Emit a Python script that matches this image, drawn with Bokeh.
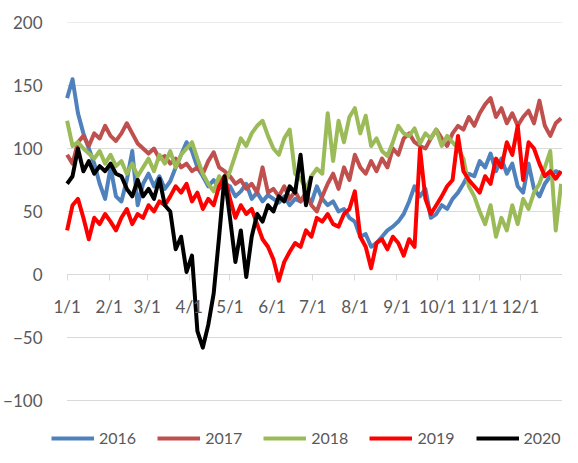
from bokeh.plotting import figure
from bokeh.models import FixedTicker, Legend, LegendItem, Range1d
from bokeh.embed import file_html
from bokeh.resources import INLINE

# sampled every 4 days starting 1/1
step_days = 4
s2016 = [140, 155, 128, 112, 100, 88, 72, 60, 85, 62, 58, 75, 98, 55, 72, 80, 70, 78, 68, 74,
         85, 95, 105, 98, 85, 78, 70, 75, 68, 72, 70, 62, 66, 72, 60, 65, 58, 63, 60, 57,
         62, 55, 60, 58, 62, 57, 70, 60, 55, 58, 50, 52, 45, 42, 30, 32, 22, 25, 30, 35,
         38, 42, 48, 58, 70, 62, 68, 45, 48, 55, 52, 60, 65, 72, 80, 78, 90, 85, 96, 82,
         92, 80, 88, 70, 65, 88, 68, 62, 72, 78, 82, 80]
s2017 = [95, 88, 105, 110, 102, 112, 108, 118, 110, 106, 112, 120, 112, 104, 100, 96, 100, 92, 94, 88,
         92, 85, 88, 82, 85, 80, 90, 97, 85, 82, 78, 72, 75, 68, 72, 65, 85, 65, 68, 62,
         70, 60, 66, 58, 65, 55, 50, 62, 72, 80, 68, 85, 75, 95, 85, 80, 90, 82, 92, 85,
         100, 95, 108, 112, 105, 102, 100, 108, 115, 108, 102, 112, 118, 115, 125, 118, 128, 135, 140, 125,
         132, 120, 128, 118, 125, 130, 120, 138, 118, 110, 120, 124]
s2018 = [122, 102, 105, 100, 96, 92, 98, 88, 95, 86, 90, 80, 88, 78, 85, 92, 82, 95, 88, 98,
         85, 95, 100, 105, 92, 80, 72, 66, 78, 72, 82, 95, 108, 102, 112, 118, 122, 110, 100, 95,
         108, 115, 80, 76, 68, 78, 84, 80, 128, 90, 122, 105, 125, 132, 112, 126, 102, 108, 98, 94,
         105, 118, 112, 110, 116, 104, 112, 108, 115, 102, 110, 105, 100, 92, 70, 62, 50, 40, 55, 30,
         45, 35, 55, 40, 60, 52, 65, 72, 85, 98, 35, 72]
s2019 = [35, 55, 60, 45, 28, 45, 40, 48, 42, 35, 45, 52, 40, 48, 45, 55, 50, 58, 55, 62,
         70, 65, 72, 58, 65, 52, 60, 55, 70, 78, 60, 45, 55, 48, 52, 40, 28, 22, 12, -5,
         10, 18, 25, 22, 35, 30, 45, 42, 48, 40, 38, 48, 52, 66, 30, 22, 5, 25, 28, 20,
         30, 25, 15, 28, 22, 100, 60, 48, 55, 62, 70, 75, 110, 82, 75, 70, 65, 78, 72, 92,
         85, 105, 95, 118, 75, 105, 100, 88, 78, 82, 76, 82]
s2020 = [72, 78, 100, 82, 90, 80, 86, 82, 88, 80, 78, 68, 62, 75, 62, 68, 60, 76, 55, 50,
         20, 30, 2, 15, -45, -58, -40, -15, 30, 78, 45, 10, 35, -2, 30, 48, 42, 55, 50, 62,
         58, 70, 65, 95, 55, 78]

years = ["2016", "2017", "2018", "2019", "2020"]
series = [s2016, s2017, s2018, s2019, s2020]
colors = ["#4F81BD", "#C0504D", "#9BBB59", "#FF0000", "#000000"]

tick_days = [0, 31, 59, 90, 120, 151, 181, 212, 243, 273, 304, 334]
tick_labels = ["1/1", "2/1", "3/1", "4/1", "5/1", "6/1", "7/1", "8/1", "9/1", "10/1", "11/1", "12/1"]
y_ticks = [-100, -50, 0, 50, 100, 150, 200]
year_start, year_end = 0, 365

FONT = "Lato"
TXT = "#595959"
GRID = "#D9D9D9"

p = figure(width=562, height=447, output_backend="svg", toolbar_location=None,
           x_range=Range1d(-11.5, 365), y_range=Range1d(-137.3, 200))
p.min_border_left = 37
p.min_border_right = 0
p.min_border_top = 22
p.min_border_bottom = 0
p.outline_line_color = None
p.background_fill_color = "white"

# horizontal gridlines spanning the year only
p.xgrid.grid_line_color = None
p.ygrid.grid_line_color = None
m = len(y_ticks)
p.segment(x0=[year_start] * m, y0=y_ticks, x1=[year_end] * m, y1=y_ticks,
          line_color=GRID, line_width=1)

p.yaxis.ticker = FixedTicker(ticks=y_ticks)
p.yaxis.axis_line_color = None
p.yaxis.major_tick_line_color = None
p.yaxis.minor_tick_line_color = None
p.yaxis.major_label_text_font = FONT
p.yaxis.major_label_text_font_size = "17px"
p.yaxis.major_label_text_color = TXT
p.yaxis.major_label_standoff = 3

# date axis crossing at y = 0
p.xaxis.fixed_location = 0
p.xaxis.ticker = FixedTicker(ticks=tick_days)
p.xaxis.major_label_overrides = {d: l for d, l in zip(tick_days, tick_labels)}
p.xaxis.axis_line_color = None
p.xaxis.major_tick_line_color = GRID
p.xaxis.major_tick_in = 0
p.xaxis.major_tick_out = 6
p.xaxis.minor_tick_line_color = None
p.xaxis.major_label_text_font = FONT
p.xaxis.major_label_text_font_size = "17px"
p.xaxis.major_label_text_color = TXT
p.xaxis.major_label_standoff = 15

items = []
for yr, s, c in zip(years, series, colors):
    xs = [i * step_days for i in range(len(s))]
    r = p.line(xs, s, line_color=c, line_width=4, line_join="round")
    items.append(LegendItem(label=yr, renderers=[r]))

legend = Legend(items=items, orientation="horizontal", location=(0, 0),
                label_text_font=FONT, label_text_font_size="16px", label_text_color=TXT,
                glyph_width=43, glyph_height=10, label_standoff=5, spacing=21,
                border_line_color=None, background_fill_alpha=0, padding=0, margin=0)
p.add_layout(legend)

open("out.html", "w").write(file_html(p, INLINE))
